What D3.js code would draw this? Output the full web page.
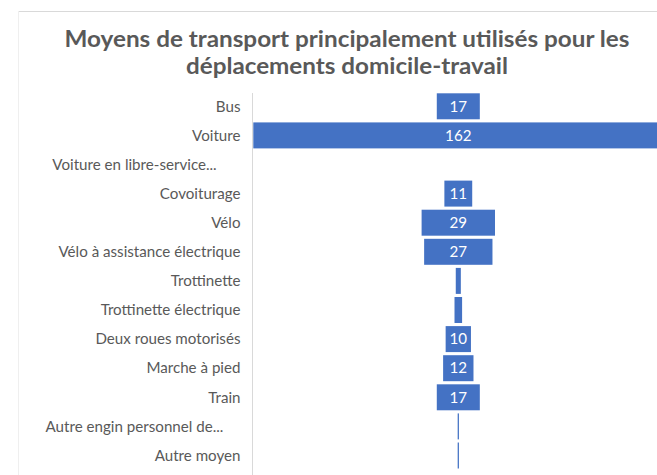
<!DOCTYPE html>
<html>
<head>
<meta charset="utf-8">
<script src="https://cdn.jsdelivr.net/npm/d3@7"></script>
<style>
  body { margin: 0; background: #fff; }
  text { font-family: Lato, "Open Sans", sans-serif; }
</style>
</head>
<body>
<div id="chart"></div>
<script>
const w = 657;
const h = 475;

// Data
const categories = ["Bus", "Voiture", "Voiture en libre-service...", "Covoiturage", "Vélo",
                    "Vélo à assistance électrique", "Trottinette", "Trottinette électrique",
                    "Deux roues motorisés", "Marche à pied", "Train",
                    "Autre engin personnel de...", "Autre moyen"];
const values = [17, 162, 0, 11, 29, 27, 2, 3, 10, 12, 17, 0.5, 0.5];
const titleLines = ["Moyens de transport principalement utilisés pour les",
                    "déplacements domicile-travail"];

const dataset = categories.map((c, i) => ({ cat: c, value: values[i] }));

const svg = d3.select("#chart")
    .append("svg")
    .attr("width", w)
    .attr("height", h);

// chart frame (cropped)
svg.append("line")
    .attr("x1", 18).attr("x2", w)
    .attr("y1", 11.5).attr("y2", 11.5)
    .attr("stroke", "#d9d9d9");
svg.append("line")
    .attr("x1", 18.5).attr("x2", 18.5)
    .attr("y1", 11).attr("y2", h)
    .attr("stroke", "#efefef");

// Title, squeezed to the Calibri width of the original
const titleTargets = [565, 322];
titleLines.forEach((t, i) => {
    svg.append("text")
        .attr("x", 347)
        .attr("y", [46.7, 74.3][i])
        .attr("text-anchor", "middle")
        .attr("font-weight", "bold")
        .attr("font-size", 22.5)
        .attr("fill", "#595959")
        .attr("textLength", titleTargets[i])
        .attr("lengthAdjust", "spacingAndGlyphs")
        .text(t);
});

// Scales
const cx = 458.3;
const x = d3.scaleLinear()
    .domain([0, 162])
    .range([0, 410]);

const y = d3.scaleBand()
    .domain(categories)
    .range([91.85, 469.95])
    .paddingInner(0.107)
    .paddingOuter(0.05);

// axis line
svg.append("line")
    .attr("x1", 252.5).attr("x2", 252.5)
    .attr("y1", 93).attr("y2", h)
    .attr("stroke", "#d9d9d9");

// Bars
svg.selectAll("rect.bar")
    .data(dataset)
    .enter()
    .append("rect")
    .attr("class", "bar")
    .attr("x", d => cx - x(d.value) / 2)
    .attr("width", d => x(d.value))
    .attr("y", d => y(d.cat))
    .attr("height", y.bandwidth())
    .attr("fill", "#4472c4");

// category labels
const labelSize = 15;
let probe = svg.append("text").attr("font-size", labelSize).text("Vélo à assistance électrique");
const squeeze = 182 / probe.node().getComputedTextLength();
probe.remove();

function fit(sel) {
    sel.each(function() {
        let len = this.getComputedTextLength();
        d3.select(this)
            .attr("textLength", len * squeeze)
            .attr("lengthAdjust", "spacingAndGlyphs");
    });
}

svg.selectAll("text.cat")
    .data(dataset)
    .enter()
    .append("text")
    .attr("class", "cat")
    .attr("x", d => d.cat.endsWith("...") ? 134.5 : 240.5)
    .attr("y", d => y(d.cat) + y.bandwidth() / 2)
    .attr("dy", "0.35em")
    .attr("text-anchor", d => d.cat.endsWith("...") ? "middle" : "end")
    .attr("font-size", labelSize)
    .attr("fill", "#595959")
    .text(d => d.cat)
    .call(fit);

// value labels (only when they fit inside the bar)
svg.selectAll("text.val")
    .data(dataset.filter(d => x(d.value) > 20))
    .enter()
    .append("text")
    .attr("class", "val")
    .attr("x", cx)
    .attr("y", d => y(d.cat) + y.bandwidth() / 2)
    .attr("dy", "0.35em")
    .attr("text-anchor", "middle")
    .attr("font-size", labelSize)
    .attr("fill", "#ffffff")
    .text(d => d.value)
    .call(fit);
</script>
</body>
</html>
